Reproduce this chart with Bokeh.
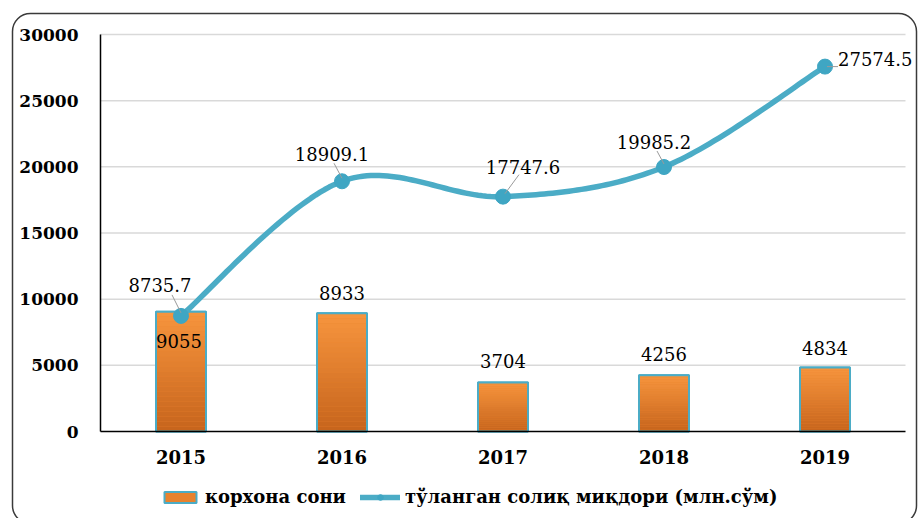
import numpy as np
from bokeh.plotting import figure
from bokeh.models import Range1d, FixedTicker, Legend, LegendItem
from bokeh.embed import file_html
from bokeh.resources import INLINE
from bokeh.core.properties import value

# ---- data ----
years = ["2015", "2016", "2017", "2018", "2019"]
enterprises = [9055, 8933, 3704, 4256, 4834]           # корхона сони
tax_paid = [8735.7, 18909.1, 17747.6, 19985.2, 27574.5]  # тўланган солиқ миқдори
y_ticks = [0, 5000, 10000, 15000, 20000, 25000, 30000]
label_bar = "корхона сони"
label_line = "тўланган солиқ миқдори (млн.сўм)"

FONT = "DejaVu Serif"
ORANGE_TOP = np.array([0xF7, 0x95, 0x3E])
ORANGE_BOT = np.array([0xC6, 0x64, 0x1C])
BLUE = "#4BACC6"

W, H = 919, 518
# plot area in page pixels: x from 100 to 905, y from 34 (top value) to 431 (zero)
PL, PR, PT, PB = 100, 905, 34, 431
n = len(years)
YMAX = y_ticks[-1]
ppx = (PR - PL) / n            # pixels per category
ppy = (PB - PT) / YMAX         # pixels per unit
x_lo = -0.5 - PL / ppx
x_hi = n - 0.5 + (W - PR) / ppx
y_hi = YMAX + PT / ppy
y_lo = -(H - PB) / ppy

def px2x(px):
    return x_lo + px / ppx

def px2y(py):
    return y_hi - py / ppy

xs = np.arange(n, dtype=float)

p = figure(width=W, height=H, min_border=0,
           x_range=Range1d(x_lo, x_hi), y_range=Range1d(y_lo, y_hi),
           output_backend="svg", toolbar_location=None)
p.outline_line_color = None
p.xgrid.grid_line_color = None
p.ygrid.grid_line_color = None

# axes drawn in the plot at fixed places
p.yaxis.fixed_location = -0.5
p.xaxis.fixed_location = 0
p.yaxis.bounds = (0, YMAX)
p.xaxis.bounds = (-0.5, n - 0.5)
p.yaxis.ticker = FixedTicker(ticks=y_ticks)
p.yaxis.major_label_overrides = {t: str(t) for t in y_ticks}
p.xaxis.ticker = FixedTicker(ticks=list(xs))
p.xaxis.major_label_overrides = {i: y for i, y in enumerate(years)}
for ax in (p.xaxis, p.yaxis):
    ax.axis_line_color = "black"
    ax.axis_line_width = 1.5
    ax.major_tick_line_color = None
    ax.minor_tick_line_color = None
    ax.major_label_text_font = FONT
    ax.major_label_text_font_style = "bold"
    ax.major_label_text_color = "black"
p.yaxis.major_label_text_font_size = "17px"
p.xaxis.major_label_text_font_size = "18px"
p.yaxis.major_label_standoff = 16
p.xaxis.major_label_standoff = 12

# horizontal grid lines
gy = [t for t in y_ticks if t > 0]
p.segment(x0=[-0.5] * len(gy), x1=[n - 0.5] * len(gy), y0=gy, y1=gy,
          line_color="#D9D9D9", line_width=1.5, level="underlay")

# rounded chart border
p.quad(left=px2x(12), right=px2x(916), top=px2y(13), bottom=px2y(523),
       fill_color=None, line_color="#3a3a3a", line_width=1.5, border_radius=18)

# ---- bars with vertical gradient ----
BW = 50 / ppx
base = p.vbar(x=xs, top=enterprises, width=BW, fill_color="#E8822E",
              line_color=BLUE, line_width=2)
N = 24
gx, gb, gt, gc = [], [], [], []
for i, v in enumerate(enterprises):
    for k in range(N):
        f = (k + 0.5) / N
        c = ORANGE_BOT + (ORANGE_TOP - ORANGE_BOT) * f
        gx.append(xs[i]); gb.append(v * k / N); gt.append(v * (k + 1) / N)
        gc.append("#%02x%02x%02x" % tuple(int(round(t)) for t in c))
p.vbar(x=gx, bottom=gb, top=gt, width=BW - 2 / ppx, fill_color=gc, line_color=None)
p.vbar(x=xs, top=enterprises, width=BW, fill_color=None, line_color=BLUE, line_width=2)

# ---- smoothed line (Excel-style smoothing through the data points) ----
def smooth(xv, yv, n=40):
    P = np.column_stack([xv, yv])
    P = np.vstack([P[0], P, P[-1]])
    out = []
    for i in range(1, len(P) - 2):
        p0, p1, p2, p3 = P[i - 1], P[i], P[i + 1], P[i + 2]
        c1 = p1 + (p2 - p0) / 6.0
        c2 = p2 - (p3 - p1) / 6.0
        t = np.linspace(0, 1, n)[:, None]
        seg = ((1 - t) ** 3) * p1 + 3 * ((1 - t) ** 2) * t * c1 + 3 * (1 - t) * t ** 2 * c2 + t ** 3 * p2
        out.append(seg if i == 1 else seg[1:])
    s = np.vstack(out)
    return s[:, 0], s[:, 1]

sx, sy = smooth(xs, np.array(tax_paid))
ln = p.line(sx, sy, line_color=BLUE, line_width=5.5, line_cap="round", line_join="round")
mk = p.scatter(xs, tax_paid, size=15, fill_color="#3FA6C3", line_color="#3FA6C3")

# ---- leader lines (pixel offsets converted to data units) ----
lead_from = [(-9, -21), (-8, -18), (16, -22), (-7, -16), (2, 0)]
lead_to = [(0, -3), (0, -3), (2, -3), (0, -3), (13, 0)]
x0 = [xs[i] + lead_from[i][0] / ppx for i in range(n)]
y0 = [tax_paid[i] - lead_from[i][1] / ppy for i in range(n)]
x1 = [xs[i] + lead_to[i][0] / ppx for i in range(n)]
y1 = [tax_paid[i] - lead_to[i][1] / ppy for i in range(n)]
p.segment(x0=x0, y0=y0, x1=x1, y1=y1, line_color="#9A9A9A", line_width=1)

# ---- data labels ----
line_dx = [-21, -10, 20, -10, 13]
line_dy = [-31, -27, -30, -25, -8]
line_align = ["center", "center", "center", "center", "left"]
p.text(x=xs, y=tax_paid, text=[f"{v:.1f}" for v in tax_paid],
       x_offset=line_dx, y_offset=line_dy, text_align=line_align, text_baseline="middle",
       text_font=value(FONT), text_font_size="18px", text_color="black")

bar_dx = [-2, 0, 0, 0, 0]
bar_dy = [29, -20, -21, -21, -20]
p.text(x=xs, y=enterprises, text=[str(v) for v in enterprises],
       x_offset=bar_dx, y_offset=bar_dy, text_align="center", text_baseline="middle",
       text_font=value(FONT), text_font_size="18px", text_color="black")

# ---- legend ----
legend = Legend(items=[LegendItem(label=label_bar, renderers=[base]),
                       LegendItem(label=label_line, renderers=[ln, mk])],
                orientation="horizontal", location=(160, 11),
                label_text_font=FONT, label_text_font_style="bold",
                label_text_font_size="18px", label_text_color="black",
                glyph_width=40, glyph_height=14, label_standoff=5, spacing=14,
                border_line_color=None, background_fill_alpha=0,
                padding=0, margin=0)
p.add_layout(legend)

open("out.html", "w").write(file_html(p, INLINE))
